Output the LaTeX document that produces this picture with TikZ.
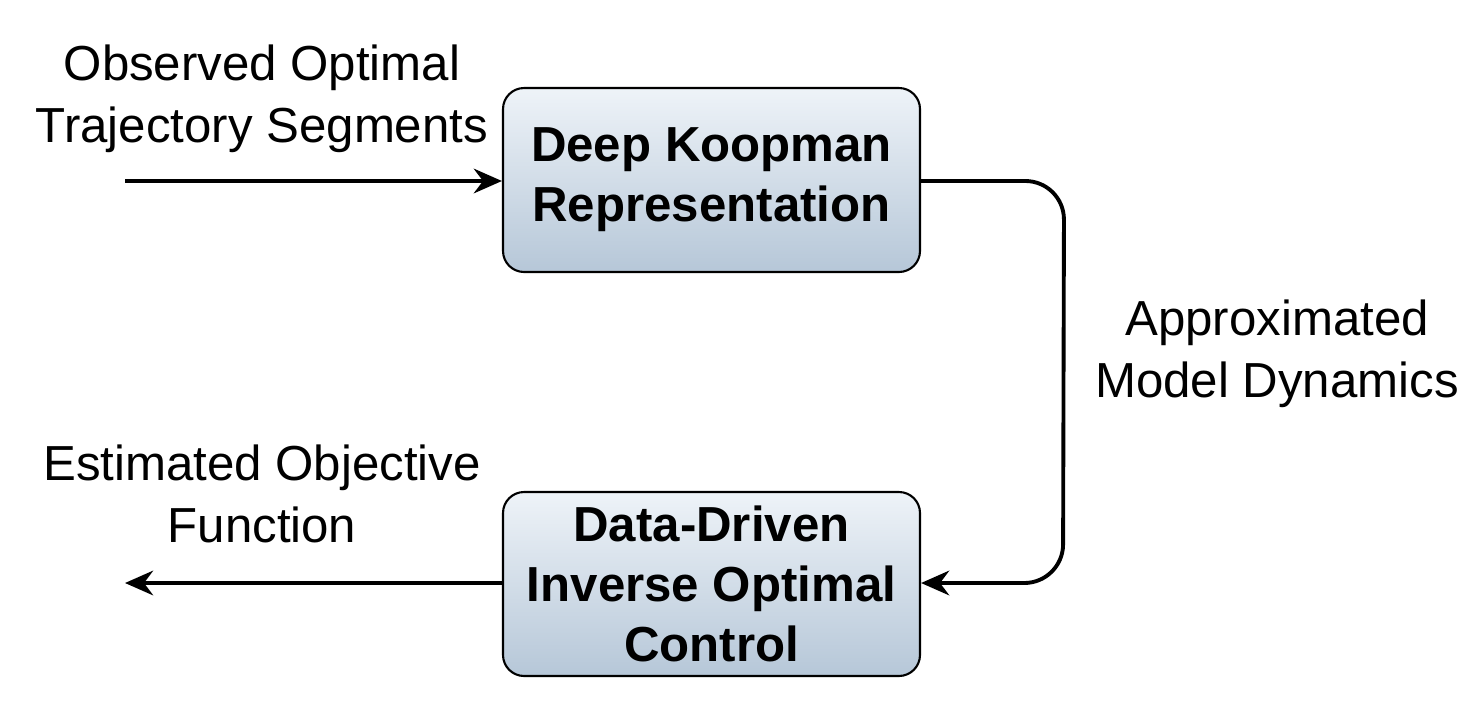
\documentclass[tikz,border=0pt]{standalone}
\usepackage{fontspec}
\setmainfont{Liberation Sans}
\usetikzlibrary{arrows.meta,positioning}
\definecolor{boxtop}{HTML}{EEF3F8}
\definecolor{boxbot}{HTML}{B6C7D8}
\tikzset{
  block/.style={draw=black, very thick, rounded corners=12pt, top color=boxtop, bottom color=boxbot,
    minimum width=8.34cm, minimum height=3.68cm, align=center, font=\fontsize{28}{34}\selectfont\bfseries},
  lbl/.style={align=center, font=\fontsize{28}{35}\selectfont},
  flow/.style={-{Stealth[length=16pt,width=14pt]}, line width=2.2pt}
}
\begin{document}
\begin{tikzpicture}

    % Canvas
    \useasboundingbox (0,0) rectangle (29.44,-14.08);

    % Blocks
    \node[block] (koop) at (14.23,-3.6) {Deep Koopman\\Representation};
    \node[block] (ioc) at (14.23,-11.68) {Data-Driven\\Inverse Optimal\\Control};

    % Free ends
    \coordinate (in) at (2.5,-3.62);
    \coordinate (out) at (2.5,-11.66);

    % Labels
    \node[lbl] (obs) at (5.24,-1.98) {Observed Optimal\\Trajectory Segments};
    \node[lbl] (dyn) at (25.54,-7.08) {Approximated\\Model Dynamics};
    \node[lbl] (est) at (5.24,-9.88) {Estimated Objective\\Function};

    % Connectors
    \draw[flow] (in) -- (in -| koop.west);
    \draw[flow] (koop.east |- in) -- ++(1.6,0) [rounded corners=22pt] -- ++(1.26,0) -- (21.26,-11.66) -- (ioc.east |- out);
    \draw[flow] (ioc.west |- out) -- (out);

\end{tikzpicture}
\end{document}
